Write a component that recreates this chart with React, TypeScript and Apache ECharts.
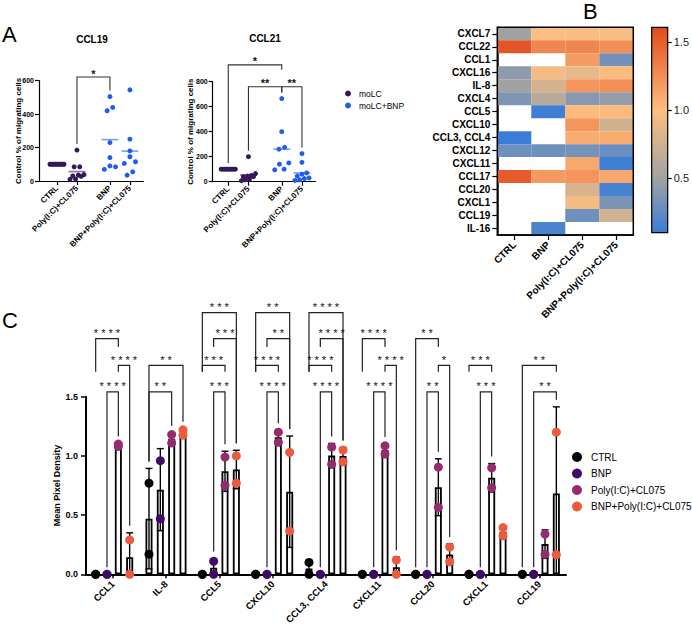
import { useEffect, useRef } from 'react';
import * as echarts from 'echarts';

const FONT = 'Arial, "Liberation Sans", Helvetica, sans-serif';

// ---------- A: migration towards CCL19 / CCL21 (Control % of migrating cells) ----------
const migrationGroups = ['CTRL', 'Poly(I:C)+CL075', 'BNP', 'BNP+Poly(I:C)+CL075'];
const migrationSlots = [0, 1, 2.65, 3.65];
const ccl19Ctrl = [100, 100, 100, 100, 100, 100, 100, 100, 100];
const ccl19Poly = [185, 85, 85, 38, 35, 30, 28, 12, 10];
const ccl19Bnp = [505, 440, 420, 230, 140, 90, 85, 70];
const ccl19BnpPoly = [545, 250, 180, 145, 115, 105, 55, 35];
const ccl21Ctrl = [100, 100, 100, 100, 100, 100, 100, 100, 100];
const ccl21Poly = [200, 65, 50, 45, 40, 40, 20, 15, 8];
const ccl21Bnp = [665, 400, 275, 260, 150, 140, 100, 95];
const ccl21BnpPoly = [225, 155, 70, 60, 45, 30, 25, 15, 10];
const ccl19Ticks = [0, 200, 400, 600];
const ccl21Ticks = [0, 200, 400, 600, 800];
// [from group, to group, bracket level, stars, left leg end, right leg end] (null: leg drops to the data)
const ccl19Comparisons: any[] = [[1, 2, 622, '*', null, null]];
const ccl21Comparisons: any[] = [
  [0, 2, 935, '*', null, 895],
  [1, 2, 760, '**', null, null],
  [2, 3, 760, '**', null, null],
];
const moLCColor = '#36175a';
const moLCBnpColor = '#1f5cf2';

// ---------- B: heat map of mean pixel density ----------
const heatRows = ['CXCL7', 'CCL22', 'CCL1', 'CXCL16', 'IL-8', 'CXCL4', 'CCL5', 'CXCL10', 'CCL3, CCL4', 'CXCL12', 'CXCL11', 'CCL17', 'CCL20', 'CXCL1', 'CCL19', 'IL-16'];
const heatCols = ['CTRL', 'BNP', 'Poly(I:C)+CL075', 'BNP+Poly(I:C)+CL075'];
const heatValues: (number | null)[][] = [
  [0.5, 0.98, 0.97, 0.97],
  [1.55, 1.3, 1.3, 1.25],
  [null, null, 1.18, 0.32],
  [0.42, 0.95, 0.88, 1.02],
  [0.5, 0.78, 1.22, 1.25],
  [0.36, 0.62, 0.4, 0.45],
  [null, 0.12, 1.02, 1.02],
  [null, null, 1.22, 0.76],
  [0.1, null, 1.1, 1.1],
  [0.3, 0.3, 0.33, 0.28],
  [null, null, 1.12, 0.12],
  [1.52, 1.2, 1.22, 1.12],
  [null, null, 0.8, 0.15],
  [null, null, 0.95, 0.35],
  [null, null, 0.3, 0.75],
  [null, 0.17, null, null],
];
const colorbarMin = 0.1;
const colorbarMax = 1.61;
const colorbarTicks = [0.5, 1.0, 1.5];
const heatStops: [number, string][] = [
  [0.1, '#3a7dd6'],
  [0.5, '#a2a2a2'],
  [1.0, '#fdbf80'],
  [1.61, '#e14a1c'],
];

// ---------- C: mean pixel density per chemokine (two replicates each) ----------
const densityTargets = ['CCL1', 'IL-8', 'CCL5', 'CXCL10', 'CCL3, CCL4', 'CXCL11', 'CCL20', 'CXCL1', 'CCL19'];
const treatments = ['CTRL', 'BNP', 'Poly(I:C)+CL075', 'BNP+Poly(I:C)+CL075'];
const ctrlReplicates = [[0, 0], [0.77, 0.17], [0, 0], [0, 0], [0.1, 0], [0, 0], [0, 0], [0, 0], [0, 0]];
const bnpReplicates = [[0, 0], [0.96, 0.47], [0.11, 0], [0, 0], [0, 0], [0, 0], [0, 0], [0, 0], [0, 0]];
const polyReplicates = [[1.1, 1.08], [1.18, 1.11], [0.99, 0.75], [1.2, 1.115], [1.075, 0.93], [1.085, 1.015], [0.905, 0.565], [0.9, 0.73], [0.34, 0.17]];
const bnpPolyReplicates = [[0.29, 0], [1.22, 1.175], [1.0, 0.77], [1.03, 0.365], [1.05, 0.95], [0.12, 0], [0.23, 0.105], [0.395, 0.325], [1.2, 0.165]];
const densityTicks = [0, 0.5, 1.0, 1.5];
const treatmentColors = ['#000000', '#420a68', '#952a6e', '#ec5b3b'];
// [target, bar A, bar B, bracket level, stars, leg end A, leg end B] (null: leg drops to the data)
const densityComparisons: any[] = [
  [0, 0, 2, 1.99, '****', 1.71, 1.92],
  [0, 2, 3, 1.765, '****', 1.71, null],
  [0, 1, 2, 1.54, '****', null, null],
  [1, 0, 3, 1.765, '**', null, null],
  [1, 0, 2, 1.54, '**', null, null],
  [2, 0, 3, 2.21, '***', 1.71, null],
  [2, 1, 3, 1.99, '***', 1.92, null],
  [2, 0, 2, 1.765, '***', 1.71, 1.71],
  [2, 1, 2, 1.54, '***', null, null],
  [3, 0, 3, 2.21, '**', 1.71, null],
  [3, 1, 3, 1.99, '**', 1.92, null],
  [3, 0, 2, 1.765, '****', 1.71, 1.71],
  [3, 1, 2, 1.54, '****', null, null],
  [4, 0, 3, 2.21, '****', 1.71, null],
  [4, 1, 3, 1.99, '****', 1.92, null],
  [4, 0, 2, 1.765, '****', 1.71, 1.71],
  [4, 1, 2, 1.54, '****', null, null],
  [5, 0, 2, 1.99, '****', 1.71, 1.92],
  [5, 2, 3, 1.765, '****', 1.71, null],
  [5, 1, 2, 1.54, '****', null, null],
  [6, 0, 2, 1.99, '**', null, 1.92],
  [6, 2, 3, 1.765, '*', 1.71, null],
  [6, 1, 2, 1.54, '**', null, null],
  [7, 0, 2, 1.765, '***', 1.71, 1.71],
  [7, 1, 2, 1.54, '***', null, null],
  [8, 0, 3, 1.765, '**', null, 1.71],
  [8, 1, 3, 1.54, '**', null, null],
];
// horizontal offsets (px) of the four bars inside a target's band
const barOffsets = [-17, -5.67, 5.67, 17];

const mean = (a: number[]) => a.reduce((s, v) => s + v, 0) / a.length;
const sdev = (a: number[]) => {
  const m = mean(a);
  return Math.sqrt(a.reduce((s, v) => s + (v - m) * (v - m), 0) / (a.length - 1));
};

function hex(c: string) {
  return [1, 3, 5].map((i) => parseInt(c.slice(i, i + 2), 16));
}
function heatColor(v: number) {
  for (let i = 1; i < heatStops.length; i++) {
    const [v1, c1] = heatStops[i];
    const [v0, c0] = heatStops[i - 1];
    if (v <= v1 || i === heatStops.length - 1) {
      const t = Math.max(0, Math.min(1, (v - v0) / (v1 - v0)));
      const a = hex(c0), b = hex(c1);
      const m = a.map((x, k) => Math.round(x + (b[k] - x) * t));
      return `rgb(${m[0]},${m[1]},${m[2]})`;
    }
  }
  return heatStops[0][1];
}

// spreads overlapping dots sideways around their group's slot
function spread(values: number[], slot: number, thresh: number): number[][] {
  const idx = values.map((_, i) => i).sort((a, b) => values[a] - values[b]);
  const out: number[][] = [];
  let cluster: number[] = [];
  const flush = () => {
    const n = cluster.length;
    const step = n > 1 ? Math.min(0.28, 0.7 / (n - 1)) : 0;
    const order = cluster.map((_, j) => j).sort((a, b) => (a % 2) - (b % 2) || a - b);
    cluster.forEach((k, j) => out.push([slot + (order[j] - (n - 1) / 2) * step, values[k]]));
    cluster = [];
  };
  idx.forEach((k) => {
    if (cluster.length && values[k] - values[cluster[cluster.length - 1]] >= thresh) flush();
    cluster.push(k);
  });
  flush();
  return out;
}

const starText = (s: string) => s.split('').join(' ');

function migrationSeries(gi: number, groups: number[][], comps: any[], thresh: number) {
  const colors = [moLCColor, moLCColor, moLCBnpColor, moLCBnpColor];
  const tops = groups.map((g) => Math.max(...g));
  const purple = [...spread(groups[0], migrationSlots[0], thresh), ...spread(groups[1], migrationSlots[1], thresh)];
  const blue = [...spread(groups[2], migrationSlots[2], thresh), ...spread(groups[3], migrationSlots[3], thresh)];
  return [
    { type: 'scatter', name: 'moLC', xAxisIndex: gi, yAxisIndex: gi, data: purple, symbolSize: 5, itemStyle: { color: moLCColor, opacity: 1 }, z: 3, silent: true },
    { type: 'scatter', name: 'moLC+BNP', xAxisIndex: gi, yAxisIndex: gi, data: blue, symbolSize: 5, itemStyle: { color: moLCBnpColor, opacity: 1 }, z: 3, silent: true },
    {
      type: 'custom', xAxisIndex: gi, yAxisIndex: gi, z: 4, silent: true,
      data: groups.map((g, i) => [migrationSlots[i], mean(g)]),
      renderItem: (p: any, api: any) => {
        const x = api.value(0), m = api.value(1);
        const a = api.coord([x - 0.42, m]), b = api.coord([x + 0.42, m]);
        return { type: 'line', shape: { x1: a[0], y1: a[1], x2: b[0], y2: b[1] }, style: { stroke: colors[p.dataIndex], lineWidth: 1.6, opacity: 0.6 } };
      },
    },
    {
      type: 'custom', xAxisIndex: gi, yAxisIndex: gi, z: 4, silent: true,
      data: comps.map((c) => [migrationSlots[c[0]], c[2]]),
      renderItem: (p: any, api: any) => {
        const c = comps[p.dataIndex];
        const xa = api.coord([migrationSlots[c[0]], 0])[0];
        const xb = api.coord([migrationSlots[c[1]], 0])[0];
        const yl = api.coord([0, c[2]])[1];
        const end = (g: number, e: number | null) => (e != null ? api.coord([0, e])[1] : api.coord([0, tops[g]])[1] - 6);
        return {
          type: 'group',
          children: [
            { type: 'polyline', shape: { points: [[xa, end(c[0], c[4])], [xa, yl], [xb, yl], [xb, end(c[1], c[5])]] }, style: { stroke: '#333', lineWidth: 1.1, fill: 'none' } },
            { type: 'text', x: (xa + xb) / 2, y: yl + 2, style: { text: c[3], font: `bold 11px ${FONT}`, fill: '#111', align: 'center', verticalAlign: 'bottom' } },
          ],
        };
      },
    },
  ];
}

function buildOption() {
  const replicates = [ctrlReplicates, bnpReplicates, polyReplicates, bnpPolyReplicates];
  const densityTop = (g: number, t: number) => {
    const r = replicates[t][g];
    return Math.max(...r, mean(r) + sdev(r));
  };
  const axisBlack = { color: '#000', width: 1.2 };

  const migrationX = (gi: number, min: number, max: number) => ({
    gridIndex: gi, type: 'value', min, max,
    axisLine: { show: true, onZero: false, lineStyle: axisBlack },
    axisTick: { show: true, customValues: migrationSlots, length: 4, lineStyle: axisBlack },
    axisLabel: {
      show: true, customValues: migrationSlots, rotate: 45, margin: 6, fontSize: 8, fontWeight: 'bold', color: '#000',
      formatter: (v: number) => migrationGroups[migrationSlots.indexOf(v)] ?? '',
    },
    splitLine: { show: false },
  });
  const migrationY = (gi: number, ticks: number[], gap: number) => ({
    gridIndex: gi, type: 'value', min: ticks[0], max: ticks[ticks.length - 1], interval: ticks[1] - ticks[0],
    axisLine: { show: true, onZero: false, lineStyle: axisBlack },
    axisTick: { show: true, length: 4, lineStyle: axisBlack },
    axisLabel: { fontSize: 7, fontWeight: 'bold', color: '#000', margin: 5 },
    splitLine: { show: false },
    name: 'Control % of migrating cells', nameLocation: 'middle', nameGap: gap, nameMoveOverlap: false,
    nameTextStyle: { fontSize: 8, fontWeight: 'bold', color: '#000' },
  });

  const heatData: number[][] = [];
  heatValues.forEach((row, r) => row.forEach((v, c) => { if (v != null) heatData.push([c, r, v]); }));

  const errorData: number[][] = [];
  replicates.forEach((rep, t) => rep.forEach((r, g) => errorData.push([g, mean(r), sdev(r), t])));

  return {
    animation: false,
    backgroundColor: '#fff',
    textStyle: { fontFamily: FONT },
    grid: [
      { left: 39, top: 80.7, width: 104.3, height: 100.3 },
      { left: 212.7, top: 81.7, width: 103, height: 100 },
      { left: 497.3, top: 27.3, width: 136, height: 207.7, show: true, borderColor: '#000', borderWidth: 1.5, backgroundColor: 'transparent', z: 10 },
      { left: 651.7, top: 27.3, width: 16.6, height: 205.4, show: true, borderColor: '#000', borderWidth: 1.2, backgroundColor: 'transparent', z: 10 },
      { left: 86, top: 396.7, width: 480, height: 177.6 },
    ],
    xAxis: [
      migrationX(0, -0.9, 4.32),
      migrationX(1, -0.77, 4.33),
      {
        gridIndex: 2, type: 'category', data: heatCols,
        axisLine: { show: true, lineStyle: { color: '#000', width: 1.5 } },
        axisTick: { show: true, alignWithLabel: true, length: 5, lineStyle: axisBlack },
        axisLabel: { rotate: 45, margin: 8, fontSize: 10, fontWeight: 'bold', color: '#000', interval: 0 },
      },
      { gridIndex: 3, type: 'category', data: [''], show: false },
      {
        gridIndex: 4, type: 'category', data: densityTargets,
        axisLine: { show: true, lineStyle: { color: '#000', width: 2 } },
        axisTick: { show: true, alignWithLabel: true, length: 4, lineStyle: { color: '#000', width: 1.5 } },
        axisLabel: { rotate: 45, margin: 8, fontSize: 9.5, fontWeight: 'bold', color: '#000', interval: 0 },
      },
    ],
    yAxis: [
      migrationY(0, ccl19Ticks, 17),
      migrationY(1, ccl21Ticks, 18.5),
      {
        gridIndex: 2, type: 'category', data: heatRows, inverse: true,
        axisLine: { show: true, lineStyle: { color: '#000', width: 1.5 } },
        axisTick: { show: true, alignWithLabel: true, length: 5, lineStyle: axisBlack },
        axisLabel: { margin: 7, fontSize: 10, fontWeight: 'bold', color: '#000', interval: 0 },
      },
      {
        gridIndex: 3, type: 'value', min: colorbarMin, max: colorbarMax, position: 'right',
        axisLine: { show: false },
        axisTick: { show: true, customValues: colorbarTicks, length: 4, lineStyle: axisBlack },
        axisLabel: { show: true, customValues: colorbarTicks, formatter: (v: number) => v.toFixed(1), fontSize: 11, color: '#222', margin: 6 },
        splitLine: { show: false },
      },
      {
        gridIndex: 4, type: 'value', min: densityTicks[0], max: densityTicks[densityTicks.length - 1], interval: densityTicks[1] - densityTicks[0],
        axisLine: { show: true, onZero: false, lineStyle: { color: '#000', width: 2 } },
        axisTick: { show: true, length: 5, lineStyle: { color: '#000', width: 1.5 } },
        axisLabel: { formatter: (v: number) => v.toFixed(1), fontSize: 9, fontWeight: 'bold', color: '#000', margin: 8 },
        splitLine: { show: false },
        name: 'Mean Pixel Density', nameLocation: 'middle', nameGap: 25, nameMoveOverlap: false,
        nameTextStyle: { fontSize: 9, fontWeight: 'bold', color: '#000' },
      },
    ],
    legend: [
      {
        data: ['moLC', 'moLC+BNP'], orient: 'vertical', left: 340, top: 84, itemWidth: 6, itemHeight: 6, itemGap: 3,
        icon: 'circle', selectedMode: false, textStyle: { fontSize: 8.5, color: '#000', padding: [0, 0, 0, 3] },
      },
      {
        data: treatments, orient: 'vertical', left: 567, top: 447, itemWidth: 10, itemHeight: 10, itemGap: 6.5,
        icon: 'circle', selectedMode: false, textStyle: { fontSize: 10, color: '#000', padding: [0, 0, 0, 4] },
      },
    ],
    graphic: [
      { type: 'text', x: 2, y: 23, style: { text: 'A', font: `22px ${FONT}`, fill: '#000', verticalAlign: 'top' } },
      { type: 'text', x: 583, y: 0, style: { text: 'B', font: `22px ${FONT}`, fill: '#000', verticalAlign: 'top' } },
      { type: 'text', x: 2, y: 309, style: { text: 'C', font: `22px ${FONT}`, fill: '#000', verticalAlign: 'top' } },
      { type: 'text', x: 92, y: 39, style: { text: 'CCL19', font: `bold 10px ${FONT}`, fill: '#000', align: 'center', verticalAlign: 'middle' } },
      { type: 'text', x: 265, y: 38, style: { text: 'CCL21', font: `bold 10px ${FONT}`, fill: '#000', align: 'center', verticalAlign: 'middle' } },
    ],
    series: [
      ...migrationSeries(0, [ccl19Ctrl, ccl19Poly, ccl19Bnp, ccl19BnpPoly], ccl19Comparisons, 33),
      ...migrationSeries(1, [ccl21Ctrl, ccl21Poly, ccl21Bnp, ccl21BnpPoly], ccl21Comparisons, 44),
      // heat map cells
      {
        type: 'custom', xAxisIndex: 2, yAxisIndex: 2, silent: true, data: heatData,
        renderItem: (_p: any, api: any) => {
          const pt = api.coord([api.value(0), api.value(1)]);
          const s = api.size([1, 1]);
          return { type: 'rect', shape: { x: pt[0] - s[0] / 2, y: pt[1] - s[1] / 2, width: s[0], height: s[1] }, style: { fill: heatColor(api.value(2)) } };
        },
      },
      // colour scale bar
      {
        type: 'custom', xAxisIndex: 3, yAxisIndex: 3, silent: true, data: [[0, colorbarMin]],
        renderItem: (_p: any, api: any) => {
          const top = api.coord([0, colorbarMax])[1];
          const bot = api.coord([0, colorbarMin])[1];
          const cx = api.coord([0, colorbarMin])[0];
          const w = api.size([1, 0])[0];
          const stops = heatStops
            .map(([v, c]) => ({ offset: (colorbarMax - v) / (colorbarMax - colorbarMin), color: c }))
            .reverse();
          return { type: 'rect', shape: { x: cx - w / 2, y: top, width: w, height: bot - top }, style: { fill: new echarts.graphic.LinearGradient(0, 0, 0, 1, stops) } };
        },
      },
      // C: mean bars
      ...replicates.map((rep, t) => ({
        type: 'bar', name: `${treatments[t]} mean`, xAxisIndex: 4, yAxisIndex: 4, silent: true,
        data: rep.map((r) => mean(r)), barWidth: 7, barGap: '62%', z: 2,
        itemStyle: { color: '#fff', borderColor: '#000', borderWidth: 1.8 },
      })),
      // C: SD error bars
      {
        type: 'custom', xAxisIndex: 4, yAxisIndex: 4, z: 3, silent: true, data: errorData,
        encode: { x: 0, y: 1 },
        renderItem: (_p: any, api: any) => {
          const g = api.value(0), m = api.value(1), s = api.value(2), t = api.value(3);
          if (!(s > 0)) return null;
          const x = api.coord([g, 0])[0] + barOffsets[t];
          const lo = Math.max(0, m - s);
          const yt = api.coord([g, m + s])[1];
          const yb = api.coord([g, lo])[1];
          const st = { stroke: '#000', lineWidth: 1.4 };
          const children: any[] = [
            { type: 'line', shape: { x1: x, y1: yt, x2: x, y2: yb }, style: st },
            { type: 'line', shape: { x1: x - 3.5, y1: yt, x2: x + 3.5, y2: yt }, style: st },
          ];
          if (m - s > 0) children.push({ type: 'line', shape: { x1: x - 3.5, y1: yb, x2: x + 3.5, y2: yb }, style: st });
          return { type: 'group', children };
        },
      },
      // C: replicate dots
      ...replicates.map((rep, t) => ({
        type: 'scatter', name: treatments[t], xAxisIndex: 4, yAxisIndex: 4, silent: true, z: 5,
        data: rep.flatMap((r, g) => r.map((v) => [g, v])),
        symbolSize: 9, symbolOffset: [barOffsets[t], 0],
        itemStyle: { color: treatmentColors[t], opacity: 1 },
      })),
      // C: significance brackets
      {
        type: 'custom', xAxisIndex: 4, yAxisIndex: 4, z: 4, silent: true,
        data: densityComparisons.map((c) => [c[0], c[3]]),
        renderItem: (p: any, api: any) => {
          const c = densityComparisons[p.dataIndex];
          const g = c[0];
          const cx = api.coord([g, 0])[0];
          const xa = cx + barOffsets[c[1]];
          const xb = cx + barOffsets[c[2]];
          const yl = api.coord([g, c[3]])[1];
          const end = (t: number, e: number | null) => (e != null ? api.coord([g, e])[1] : api.coord([g, densityTop(g, t)])[1] - 7);
          return {
            type: 'group',
            children: [
              { type: 'polyline', shape: { points: [[xa, end(c[1], c[5])], [xa, yl], [xb, yl], [xb, end(c[2], c[6])]] }, style: { stroke: '#222', lineWidth: 1.2, fill: 'none' } },
              { type: 'text', x: (xa + xb) / 2, y: yl, style: { text: starText(c[4]), font: `11px ${FONT}`, fill: '#111', align: 'center', verticalAlign: 'bottom' } },
            ],
          };
        },
      },
    ],
  };
}

export default function App() {
  const ref = useRef<HTMLDivElement>(null);
  useEffect(() => {
    if (!ref.current) return;
    const chart = echarts.init(ref.current, undefined, { renderer: 'svg' });
    chart.setOption(buildOption() as any);
    return () => chart.dispose();
  }, []);
  return <div ref={ref} style={{ position: 'fixed', left: 0, top: 0, width: 692, height: 627, background: '#fff' }} />;
}
